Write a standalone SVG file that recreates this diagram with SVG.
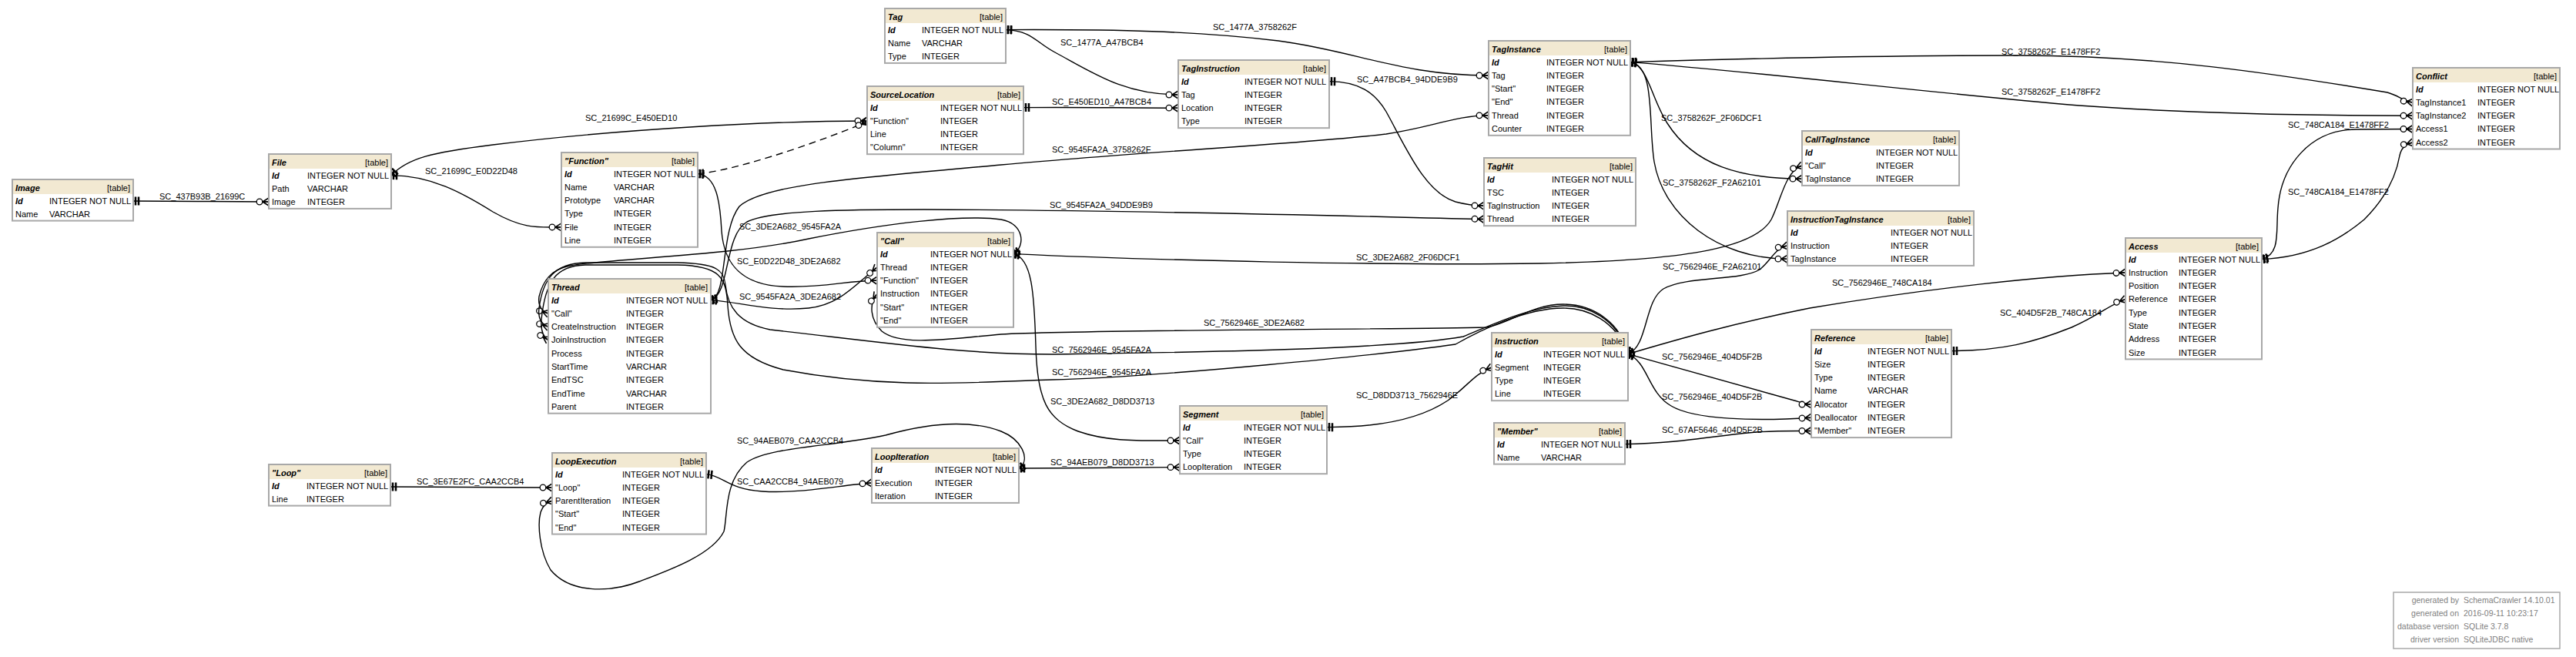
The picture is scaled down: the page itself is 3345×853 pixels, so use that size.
<svg xmlns="http://www.w3.org/2000/svg" width="3345" height="853" viewBox="0 0 3345 853">
<style>
text{font-family:"Liberation Sans",Arial,sans-serif;font-size:11px;fill:#000}
.box{fill:#fff;stroke:#a8a8a8;stroke-width:2}
.hd{fill:#f2e9d2}
.tt{font-weight:bold;font-style:italic}
.tg{text-anchor:end}
.pk{font-weight:bold;font-style:italic}
.e{fill:none;stroke:#000;stroke-width:1.4;marker-start:url(#one);marker-end:url(#many)}
.d{stroke-dasharray:9,6}
.lb{font-size:11px}
.ft{fill:#808080;font-size:10.5px}
.fr{text-anchor:end}
</style>
<defs>
<marker id="many" markerUnits="userSpaceOnUse" viewBox="-20 -8 22 16" refX="0" refY="0" markerWidth="22" markerHeight="16" orient="auto" overflow="visible">
<path d="M-8,0 L0,-5 M-8,0 L0,0 M-8,0 L0,5" fill="none" stroke="#000" stroke-width="1.6"/>
<circle cx="-12" cy="0" r="3.8" fill="#fff" stroke="#000" stroke-width="1.3"/>
</marker>
<marker id="one" markerUnits="userSpaceOnUse" viewBox="-2 -8 14 16" refX="0" refY="0" markerWidth="14" markerHeight="16" orient="auto" overflow="visible">
<path d="M3,-5.5 L3,5.5 M7,-5.5 L7,5.5" fill="none" stroke="#000" stroke-width="2.5"/>
</marker>
</defs>
<rect width="3345" height="853" fill="#fff"/>

<g id="connectors">
<path class="e" d="M173,261 C250,261 280,262 349,262"/>
<path class="e" d="M508,227.6 C560,228 600,250 640,275 C680,298 700,295 729,294.9"/>
<path class="e" d="M508,227.6 C530,205 560,198 640,188 C800,168 1000,157 1126,157"/>
<path class="e d" d="M906,225.6 C950,222 1050,190 1126,158"/>
<path class="e" d="M1306,38.6 C1450,38 1550,40 1660,53 C1760,66 1820,98 1933,98"/>
<path class="e" d="M1306,38.6 C1340,40 1345,55 1370,68 C1420,95 1460,123 1530,123"/>
<path class="e" d="M1329,139.6 C1400,139 1450,140 1530,140.2"/>
<path class="e" d="M1726,105.6 C1765,106 1785,120 1800,145 C1825,190 1850,250 1890,262 C1905,266 1915,267 1927,267.2"/>
<path class="e" d="M923,389.6 C945,385 935,300 960,268 C990,240 1100,232 1300,214 C1500,196 1700,186 1800,174 C1860,165 1890,150 1933,149.8"/>
<path class="e" d="M923,389.6 C948,383 940,305 970,288 C1000,273 1100,272 1200,272 C1500,273 1800,282 1927,284.5"/>
<path class="e" d="M2117,80.6 C2140,85 2145,130 2165,160 C2200,215 2260,232 2340,232.2"/>
<path class="e" d="M2117,80.6 C2150,85 2140,160 2148,210 C2160,280 2230,336 2321,336.2"/>
<path class="e" d="M2117,80.6 C2300,75 2450,72 2620,72 C2800,72 2950,95 3100,120 C3115,124 3120,131 3133,133"/>
<path class="e" d="M2117,80.6 C2300,95 2500,120 2700,137 C2850,148 3000,150 3133,150.2"/>
<path class="e" d="M2937,336.6 C2962,330 2955,300 2958,270 C2962,215 3000,168 3060,168 C3090,167.5 3110,167.5 3133,167.5"/>
<path class="e" d="M2937,336.6 C3000,334 3040,310 3070,285 C3100,255 3112,225 3116,202 C3118,192 3124,187 3133,185"/>
<path class="e" d="M1316,329.6 C1500,338 1800,345 2000,342 C2200,338 2280,320 2300,285 C2312,262 2318,222 2340,215"/>
<path class="e" d="M2114,459.6 C2140,450 2135,390 2160,375 C2190,358 2260,365 2285,350 C2300,338 2305,322 2321,319"/>
<path class="e" d="M2114,459.6 C2180,440 2250,420 2350,400 C2500,375 2650,358 2760,354"/>
<path class="e" d="M2534,455.6 C2600,455 2640,445 2690,425 C2725,410 2740,395 2760,388.6"/>
<path class="e" d="M2114,459.6 L2330,520 C2340,523 2345,525 2352,524.9"/>
<path class="e" d="M2114,459.6 C2140,470 2140,510 2170,527 C2200,545 2280,547 2352,542.2"/>
<path class="e" d="M2110,576.6 C2180,576 2230,565 2280,561 C2310,559 2330,559.5 2352,559.5"/>
<path class="e" d="M1723,554.6 C1800,555 1850,540 1880,520 C1905,502 1915,485 1937,477"/>
<path class="e" d="M1316,329.6 C1332,320 1330,290 1300,285 C1250,278 1150,290 1050,310 C950,332 800,335 740,345 C715,350 705,365 700,385 C698,398 705,405 712,407"/>
<path class="e" d="M906,225.6 C930,228 935,260 937,300 C940,340 960,370 1017,372 C1070,374 1100,364 1139,364.2"/>
<path class="e" d="M923,389.6 C960,392 1000,405 1050,400 C1090,396 1110,370 1139,347"/>
<path class="e" d="M2114,459.6 C2105,420 2070,395 2030,395 C1990,395 1960,420 1930,425 C1800,428 1400,428 1300,434 C1230,440 1170,450 1145,430 C1130,415 1128,395 1139,381.5"/>
<path class="e" d="M2114,459.6 C2100,412 2060,396 2030,397 C1985,398 1930,425 1900,437 C1800,455 1500,458 1366,460 C1250,460 1150,445 1000,428 C960,420 945,400 942,370 C940,350 930,342 880,341 L760,341 C720,342 705,362 700,400 C698,415 705,422 712,424.2"/>
<path class="e" d="M2114,459.6 C2098,415 2060,400 2030,400 C1980,400 1920,430 1890,447 C1800,460 1500,490 1366,493 C1250,497 1150,505 1017,480 C960,465 948,440 945,397 C943,360 935,345 880,344 L760,344 C722,345 708,365 703,415 C702,430 706,438 712,441.5"/>
<path class="e" d="M1316,329.6 C1340,335 1343,380 1345,450 C1347,520 1360,545 1400,560 C1440,574 1480,572 1532,572"/>
<path class="e" d="M507,632 C600,632 650,633 717,633"/>
<path class="e" d="M1323,609.6 C1340,595 1325,570 1300,560 C1260,545 1210,548 1150,565 C1080,580 1000,580 970,600 C940,625 945,670 940,690 C925,720 870,740 830,755 C790,770 740,770 715,740 C700,715 698,680 702,665 C705,656 710,652 717,650.2"/>
<path class="e" d="M917,615.6 C940,618 945,635 990,638 C1040,641 1090,630 1132,627"/>
<path class="e" d="M1323,608 C1400,608 1450,607 1532,606.6"/>
</g>

<g id="labels">
<text class="lb" x="207" y="259">SC_437B93B_21699C</text>
<text class="lb" x="552" y="226">SC_21699C_E0D22D48</text>
<text class="lb" x="760" y="157">SC_21699C_E450ED10</text>
<text class="lb" x="1575" y="39">SC_1477A_3758262F</text>
<text class="lb" x="1377" y="59">SC_1477A_A47BCB4</text>
<text class="lb" x="1366" y="136">SC_E450ED10_A47BCB4</text>
<text class="lb" x="1762" y="107">SC_A47BCB4_94DDE9B9</text>
<text class="lb" x="1366" y="198">SC_9545FA2A_3758262F</text>
<text class="lb" x="1363" y="270">SC_9545FA2A_94DDE9B9</text>
<text class="lb" x="2157" y="157">SC_3758262F_2F06DCF1</text>
<text class="lb" x="2159" y="241">SC_3758262F_F2A62101</text>
<text class="lb" x="2599" y="71">SC_3758262F_E1478FF2</text>
<text class="lb" x="2599" y="123">SC_3758262F_E1478FF2</text>
<text class="lb" x="2971" y="166">SC_748CA184_E1478FF2</text>
<text class="lb" x="2971" y="253">SC_748CA184_E1478FF2</text>
<text class="lb" x="1761" y="338">SC_3DE2A682_2F06DCF1</text>
<text class="lb" x="2159" y="350">SC_7562946E_F2A62101</text>
<text class="lb" x="2379" y="371">SC_7562946E_748CA184</text>
<text class="lb" x="2597" y="410">SC_404D5F2B_748CA184</text>
<text class="lb" x="2158" y="467">SC_7562946E_404D5F2B</text>
<text class="lb" x="2158" y="519">SC_7562946E_404D5F2B</text>
<text class="lb" x="2158" y="562">SC_67AF5646_404D5F2B</text>
<text class="lb" x="1761" y="517">SC_D8DD3713_7562946E</text>
<text class="lb" x="960" y="298">SC_3DE2A682_9545FA2A</text>
<text class="lb" x="957" y="343">SC_E0D22D48_3DE2A682</text>
<text class="lb" x="960" y="389">SC_9545FA2A_3DE2A682</text>
<text class="lb" x="1563" y="423">SC_7562946E_3DE2A682</text>
<text class="lb" x="1366" y="458">SC_7562946E_9545FA2A</text>
<text class="lb" x="1366" y="487">SC_7562946E_9545FA2A</text>
<text class="lb" x="1364" y="525">SC_3DE2A682_D8DD3713</text>
<text class="lb" x="541" y="629">SC_3E67E2FC_CAA2CCB4</text>
<text class="lb" x="957" y="576">SC_94AEB079_CAA2CCB4</text>
<text class="lb" x="957" y="629">SC_CAA2CCB4_94AEB079</text>
<text class="lb" x="1364" y="604">SC_94AEB079_D8DD3713</text>
</g>

<g id="t-Image">
<rect class="box" x="16" y="233" width="157" height="53.6"/><rect class="hd" x="17" y="234" width="155" height="18"/>
<text class="tt" x="20" y="247.5">Image</text><text class="tg" x="169" y="247.5">[table]</text>
<text class="pk" x="20" y="264.5">Id</text><text x="64" y="264.5">INTEGER NOT NULL</text>
<text x="20" y="281.8">Name</text><text x="64" y="281.8">VARCHAR</text>
</g>
<g id="t-File">
<rect class="box" x="349" y="200" width="159" height="70.9"/><rect class="hd" x="350" y="201" width="157" height="18"/>
<text class="tt" x="353" y="214.5">File</text><text class="tg" x="504" y="214.5">[table]</text>
<text class="pk" x="353" y="231.5">Id</text><text x="399" y="231.5">INTEGER NOT NULL</text>
<text x="353" y="248.8">Path</text><text x="399" y="248.8">VARCHAR</text>
<text x="353" y="266.1">Image</text><text x="399" y="266.1">INTEGER</text>
</g>
<g id="t-Function">
<rect class="box" x="729" y="198" width="177" height="122.8"/><rect class="hd" x="730" y="199" width="175" height="18"/>
<text class="tt" x="733" y="212.5">"Function"</text><text class="tg" x="902" y="212.5">[table]</text>
<text class="pk" x="733" y="229.5">Id</text><text x="797" y="229.5">INTEGER NOT NULL</text>
<text x="733" y="246.8">Name</text><text x="797" y="246.8">VARCHAR</text>
<text x="733" y="264.1">Prototype</text><text x="797" y="264.1">VARCHAR</text>
<text x="733" y="281.4">Type</text><text x="797" y="281.4">INTEGER</text>
<text x="733" y="298.7">File</text><text x="797" y="298.7">INTEGER</text>
<text x="733" y="316">Line</text><text x="797" y="316">INTEGER</text>
</g>
<g id="t-Tag">
<rect class="box" x="1149" y="11" width="157" height="70.9"/><rect class="hd" x="1150" y="12" width="155" height="18"/>
<text class="tt" x="1153" y="25.5">Tag</text><text class="tg" x="1302" y="25.5">[table]</text>
<text class="pk" x="1153" y="42.5">Id</text><text x="1197" y="42.5">INTEGER NOT NULL</text>
<text x="1153" y="59.8">Name</text><text x="1197" y="59.8">VARCHAR</text>
<text x="1153" y="77.1">Type</text><text x="1197" y="77.1">INTEGER</text>
</g>
<g id="t-SourceLocation">
<rect class="box" x="1126" y="112" width="203" height="88.2"/><rect class="hd" x="1127" y="113" width="201" height="18"/>
<text class="tt" x="1130" y="126.5">SourceLocation</text><text class="tg" x="1325" y="126.5">[table]</text>
<text class="pk" x="1130" y="143.5">Id</text><text x="1221" y="143.5">INTEGER NOT NULL</text>
<text x="1130" y="160.8">"Function"</text><text x="1221" y="160.8">INTEGER</text>
<text x="1130" y="178.1">Line</text><text x="1221" y="178.1">INTEGER</text>
<text x="1130" y="195.4">"Column"</text><text x="1221" y="195.4">INTEGER</text>
</g>
<g id="t-TagInstruction">
<rect class="box" x="1530" y="78" width="196" height="88.2"/><rect class="hd" x="1531" y="79" width="194" height="18"/>
<text class="tt" x="1534" y="92.5">TagInstruction</text><text class="tg" x="1722" y="92.5">[table]</text>
<text class="pk" x="1534" y="109.5">Id</text><text x="1616" y="109.5">INTEGER NOT NULL</text>
<text x="1534" y="126.8">Tag</text><text x="1616" y="126.8">INTEGER</text>
<text x="1534" y="144.1">Location</text><text x="1616" y="144.1">INTEGER</text>
<text x="1534" y="161.4">Type</text><text x="1616" y="161.4">INTEGER</text>
</g>
<g id="t-TagInstance">
<rect class="box" x="1933" y="53" width="184" height="122.8"/><rect class="hd" x="1934" y="54" width="182" height="18"/>
<text class="tt" x="1937" y="67.5">TagInstance</text><text class="tg" x="2113" y="67.5">[table]</text>
<text class="pk" x="1937" y="84.5">Id</text><text x="2008" y="84.5">INTEGER NOT NULL</text>
<text x="1937" y="101.8">Tag</text><text x="2008" y="101.8">INTEGER</text>
<text x="1937" y="119.1">"Start"</text><text x="2008" y="119.1">INTEGER</text>
<text x="1937" y="136.4">"End"</text><text x="2008" y="136.4">INTEGER</text>
<text x="1937" y="153.7">Thread</text><text x="2008" y="153.7">INTEGER</text>
<text x="1937" y="171">Counter</text><text x="2008" y="171">INTEGER</text>
</g>
<g id="t-TagHit">
<rect class="box" x="1927" y="205" width="197" height="88.2"/><rect class="hd" x="1928" y="206" width="195" height="18"/>
<text class="tt" x="1931" y="219.5">TagHit</text><text class="tg" x="2120" y="219.5">[table]</text>
<text class="pk" x="1931" y="236.5">Id</text><text x="2015" y="236.5">INTEGER NOT NULL</text>
<text x="1931" y="253.8">TSC</text><text x="2015" y="253.8">INTEGER</text>
<text x="1931" y="271.1">TagInstruction</text><text x="2015" y="271.1">INTEGER</text>
<text x="1931" y="288.4">Thread</text><text x="2015" y="288.4">INTEGER</text>
</g>
<g id="t-CallTagInstance">
<rect class="box" x="2340" y="170" width="204" height="70.9"/><rect class="hd" x="2341" y="171" width="202" height="18"/>
<text class="tt" x="2344" y="184.5">CallTagInstance</text><text class="tg" x="2540" y="184.5">[table]</text>
<text class="pk" x="2344" y="201.5">Id</text><text x="2436" y="201.5">INTEGER NOT NULL</text>
<text x="2344" y="218.8">"Call"</text><text x="2436" y="218.8">INTEGER</text>
<text x="2344" y="236.1">TagInstance</text><text x="2436" y="236.1">INTEGER</text>
</g>
<g id="t-InstructionTagInstance">
<rect class="box" x="2321" y="274" width="242" height="70.9"/><rect class="hd" x="2322" y="275" width="240" height="18"/>
<text class="tt" x="2325" y="288.5">InstructionTagInstance</text><text class="tg" x="2559" y="288.5">[table]</text>
<text class="pk" x="2325" y="305.5">Id</text><text x="2455" y="305.5">INTEGER NOT NULL</text>
<text x="2325" y="322.8">Instruction</text><text x="2455" y="322.8">INTEGER</text>
<text x="2325" y="340.1">TagInstance</text><text x="2455" y="340.1">INTEGER</text>
</g>
<g id="t-Conflict">
<rect class="box" x="3133" y="88" width="191" height="105.5"/><rect class="hd" x="3134" y="89" width="189" height="18"/>
<text class="tt" x="3137" y="102.5">Conflict</text><text class="tg" x="3320" y="102.5">[table]</text>
<text class="pk" x="3137" y="119.5">Id</text><text x="3217" y="119.5">INTEGER NOT NULL</text>
<text x="3137" y="136.8">TagInstance1</text><text x="3217" y="136.8">INTEGER</text>
<text x="3137" y="154.1">TagInstance2</text><text x="3217" y="154.1">INTEGER</text>
<text x="3137" y="171.4">Access1</text><text x="3217" y="171.4">INTEGER</text>
<text x="3137" y="188.7">Access2</text><text x="3217" y="188.7">INTEGER</text>
</g>
<g id="t-Thread">
<rect class="box" x="712" y="362" width="211" height="174.7"/><rect class="hd" x="713" y="363" width="209" height="18"/>
<text class="tt" x="716" y="376.5">Thread</text><text class="tg" x="919" y="376.5">[table]</text>
<text class="pk" x="716" y="393.5">Id</text><text x="813" y="393.5">INTEGER NOT NULL</text>
<text x="716" y="410.8">"Call"</text><text x="813" y="410.8">INTEGER</text>
<text x="716" y="428.1">CreateInstruction</text><text x="813" y="428.1">INTEGER</text>
<text x="716" y="445.4">JoinInstruction</text><text x="813" y="445.4">INTEGER</text>
<text x="716" y="462.7">Process</text><text x="813" y="462.7">INTEGER</text>
<text x="716" y="480">StartTime</text><text x="813" y="480">VARCHAR</text>
<text x="716" y="497.3">EndTSC</text><text x="813" y="497.3">INTEGER</text>
<text x="716" y="514.6">EndTime</text><text x="813" y="514.6">VARCHAR</text>
<text x="716" y="531.9">Parent</text><text x="813" y="531.9">INTEGER</text>
</g>
<g id="t-Call">
<rect class="box" x="1139" y="302" width="177" height="122.8"/><rect class="hd" x="1140" y="303" width="175" height="18"/>
<text class="tt" x="1143" y="316.5">"Call"</text><text class="tg" x="1312" y="316.5">[table]</text>
<text class="pk" x="1143" y="333.5">Id</text><text x="1208" y="333.5">INTEGER NOT NULL</text>
<text x="1143" y="350.8">Thread</text><text x="1208" y="350.8">INTEGER</text>
<text x="1143" y="368.1">"Function"</text><text x="1208" y="368.1">INTEGER</text>
<text x="1143" y="385.4">Instruction</text><text x="1208" y="385.4">INTEGER</text>
<text x="1143" y="402.7">"Start"</text><text x="1208" y="402.7">INTEGER</text>
<text x="1143" y="420">"End"</text><text x="1208" y="420">INTEGER</text>
</g>
<g id="t-Instruction">
<rect class="box" x="1937" y="432" width="177" height="88.2"/><rect class="hd" x="1938" y="433" width="175" height="18"/>
<text class="tt" x="1941" y="446.5">Instruction</text><text class="tg" x="2110" y="446.5">[table]</text>
<text class="pk" x="1941" y="463.5">Id</text><text x="2004" y="463.5">INTEGER NOT NULL</text>
<text x="1941" y="480.8">Segment</text><text x="2004" y="480.8">INTEGER</text>
<text x="1941" y="498.1">Type</text><text x="2004" y="498.1">INTEGER</text>
<text x="1941" y="515.4">Line</text><text x="2004" y="515.4">INTEGER</text>
</g>
<g id="t-Member">
<rect class="box" x="1940" y="549" width="170" height="53.6"/><rect class="hd" x="1941" y="550" width="168" height="18"/>
<text class="tt" x="1944" y="563.5">"Member"</text><text class="tg" x="2106" y="563.5">[table]</text>
<text class="pk" x="1944" y="580.5">Id</text><text x="2001" y="580.5">INTEGER NOT NULL</text>
<text x="1944" y="597.8">Name</text><text x="2001" y="597.8">VARCHAR</text>
</g>
<g id="t-Reference">
<rect class="box" x="2352" y="428" width="182" height="140.1"/><rect class="hd" x="2353" y="429" width="180" height="18"/>
<text class="tt" x="2356" y="442.5">Reference</text><text class="tg" x="2530" y="442.5">[table]</text>
<text class="pk" x="2356" y="459.5">Id</text><text x="2425" y="459.5">INTEGER NOT NULL</text>
<text x="2356" y="476.8">Size</text><text x="2425" y="476.8">INTEGER</text>
<text x="2356" y="494.1">Type</text><text x="2425" y="494.1">INTEGER</text>
<text x="2356" y="511.4">Name</text><text x="2425" y="511.4">VARCHAR</text>
<text x="2356" y="528.7">Allocator</text><text x="2425" y="528.7">INTEGER</text>
<text x="2356" y="546">Deallocator</text><text x="2425" y="546">INTEGER</text>
<text x="2356" y="563.3">"Member"</text><text x="2425" y="563.3">INTEGER</text>
</g>
<g id="t-Access">
<rect class="box" x="2760" y="309" width="177" height="157.4"/><rect class="hd" x="2761" y="310" width="175" height="18"/>
<text class="tt" x="2764" y="323.5">Access</text><text class="tg" x="2933" y="323.5">[table]</text>
<text class="pk" x="2764" y="340.5">Id</text><text x="2829" y="340.5">INTEGER NOT NULL</text>
<text x="2764" y="357.8">Instruction</text><text x="2829" y="357.8">INTEGER</text>
<text x="2764" y="375.1">Position</text><text x="2829" y="375.1">INTEGER</text>
<text x="2764" y="392.4">Reference</text><text x="2829" y="392.4">INTEGER</text>
<text x="2764" y="409.7">Type</text><text x="2829" y="409.7">INTEGER</text>
<text x="2764" y="427">State</text><text x="2829" y="427">INTEGER</text>
<text x="2764" y="444.3">Address</text><text x="2829" y="444.3">INTEGER</text>
<text x="2764" y="461.6">Size</text><text x="2829" y="461.6">INTEGER</text>
</g>
<g id="t-Segment">
<rect class="box" x="1532" y="527" width="191" height="88.2"/><rect class="hd" x="1533" y="528" width="189" height="18"/>
<text class="tt" x="1536" y="541.5">Segment</text><text class="tg" x="1719" y="541.5">[table]</text>
<text class="pk" x="1536" y="558.5">Id</text><text x="1615" y="558.5">INTEGER NOT NULL</text>
<text x="1536" y="575.8">"Call"</text><text x="1615" y="575.8">INTEGER</text>
<text x="1536" y="593.1">Type</text><text x="1615" y="593.1">INTEGER</text>
<text x="1536" y="610.4">LoopIteration</text><text x="1615" y="610.4">INTEGER</text>
</g>
<g id="t-Loop">
<rect class="box" x="349" y="603" width="158" height="53.6"/><rect class="hd" x="350" y="604" width="156" height="18"/>
<text class="tt" x="353" y="617.5">"Loop"</text><text class="tg" x="503" y="617.5">[table]</text>
<text class="pk" x="353" y="634.5">Id</text><text x="398" y="634.5">INTEGER NOT NULL</text>
<text x="353" y="651.8">Line</text><text x="398" y="651.8">INTEGER</text>
</g>
<g id="t-LoopExecution">
<rect class="box" x="717" y="588" width="200" height="105.5"/><rect class="hd" x="718" y="589" width="198" height="18"/>
<text class="tt" x="721" y="602.5">LoopExecution</text><text class="tg" x="913" y="602.5">[table]</text>
<text class="pk" x="721" y="619.5">Id</text><text x="808" y="619.5">INTEGER NOT NULL</text>
<text x="721" y="636.8">"Loop"</text><text x="808" y="636.8">INTEGER</text>
<text x="721" y="654.1">ParentIteration</text><text x="808" y="654.1">INTEGER</text>
<text x="721" y="671.4">"Start"</text><text x="808" y="671.4">INTEGER</text>
<text x="721" y="688.7">"End"</text><text x="808" y="688.7">INTEGER</text>
</g>
<g id="t-LoopIteration">
<rect class="box" x="1132" y="582" width="191" height="70.9"/><rect class="hd" x="1133" y="583" width="189" height="18"/>
<text class="tt" x="1136" y="596.5">LoopIteration</text><text class="tg" x="1319" y="596.5">[table]</text>
<text class="pk" x="1136" y="613.5">Id</text><text x="1214" y="613.5">INTEGER NOT NULL</text>
<text x="1136" y="630.8">Execution</text><text x="1214" y="630.8">INTEGER</text>
<text x="1136" y="648.1">Iteration</text><text x="1214" y="648.1">INTEGER</text>
</g>
<g id="footer">
<rect x="3108" y="769" width="216" height="73" fill="#fff" stroke="#a8a8a8" stroke-width="1.5"/>
<text class="ft fr" x="3193" y="783">generated by</text><text class="ft" x="3199" y="783">SchemaCrawler 14.10.01</text>
<text class="ft fr" x="3193" y="800">generated on</text><text class="ft" x="3199" y="800">2016-09-11 10:23:17</text>
<text class="ft fr" x="3193" y="817">database version</text><text class="ft" x="3199" y="817">SQLite 3.7.8</text>
<text class="ft fr" x="3193" y="834">driver version</text><text class="ft" x="3199" y="834">SQLiteJDBC native</text>
</g>
</svg>
